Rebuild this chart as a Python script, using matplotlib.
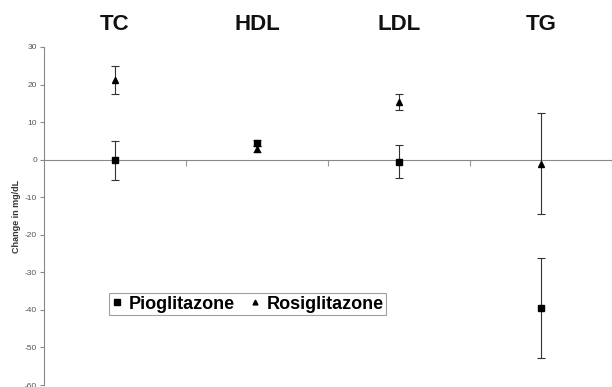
import matplotlib
matplotlib.use("Agg")
import matplotlib.pyplot as plt
from matplotlib.lines import Line2D
import numpy as np

plt.rcParams['font.family'] = ['Liberation Sans', 'DejaVu Sans']

categories = ["TC", "HDL", "LDL", "TG"]
pio_mean = [-0.1, 4.5, -0.5, -39.4]
pio_err = [5.2, 0.8, 4.4, 13.3]
rosi_mean = [21.2, 2.9, 15.3, -1.1]
rosi_err = [3.7, 0.8, 2.2, 13.4]
yticks = [30, 20, 10, 0, -10, -20, -30, -40, -50, -60]

fig = plt.figure(figsize=(6.12, 3.87), dpi=100)
ax = fig.add_axes([44/612, 2/387, (612-44)/612, (385-47)/387])

x = np.arange(len(categories)) + 0.5
ax.errorbar(x, pio_mean, yerr=pio_err, fmt='s', color='black', ms=4.5,
            ecolor='#333333', elinewidth=0.8, capsize=3, capthick=0.8,
            zorder=3)
ax.errorbar(x, rosi_mean, yerr=rosi_err, fmt='^', color='black', ms=4.5,
            ecolor='#333333', elinewidth=0.8, capsize=3, capthick=0.8,
            zorder=3)

ax.set_xlim(0, 4)
ax.set_ylim(-60, 30)
ax.set_yticks(yticks)
ax.set_yticklabels([str(v) for v in yticks], fontsize=6, color='#555555')
ax.tick_params(axis='y', length=3, width=0.8, color='#888888', pad=2)

ax.spines['top'].set_visible(False)
ax.spines['right'].set_visible(False)
ax.spines['left'].set_color('#888888')
ax.spines['bottom'].set_position(('data', 0))
ax.spines['bottom'].set_color('#888888')
ax.set_xticks([1, 2, 3, 4])
ax.set_xticklabels([])
ax.tick_params(axis='x', length=4, width=0.8, color='#999999', direction='out')

ax.set_ylabel("Change in mg/dL", fontsize=6.5, fontweight='bold', color='#333333', labelpad=3)

for xi, c in zip(x, categories):
    fig.text((44 + xi * 142) / 612, 1 - 24/387, c, ha='center', va='center',
             fontsize=16, fontweight='bold', color='#111111')

handles = [Line2D([], [], ls='none', marker='s', color='black', ms=4),
           Line2D([], [], ls='none', marker='^', color='black', ms=3.5)]
leg = ax.legend(handles, ['Pioglitazone', 'Rosiglitazone'],
                loc='upper left', bbox_to_anchor=((109-44)/568, (385-293)/338),
                ncol=2, frameon=True, fancybox=False,
                prop={'weight': 'bold', 'size': 13}, handlelength=0.6,
                handletextpad=0.35, columnspacing=0.8, borderpad=0.15,
                borderaxespad=0)
leg.get_frame().set_edgecolor('#888888')
leg.get_frame().set_linewidth(0.8)

fig.savefig("out.png", dpi=100)
